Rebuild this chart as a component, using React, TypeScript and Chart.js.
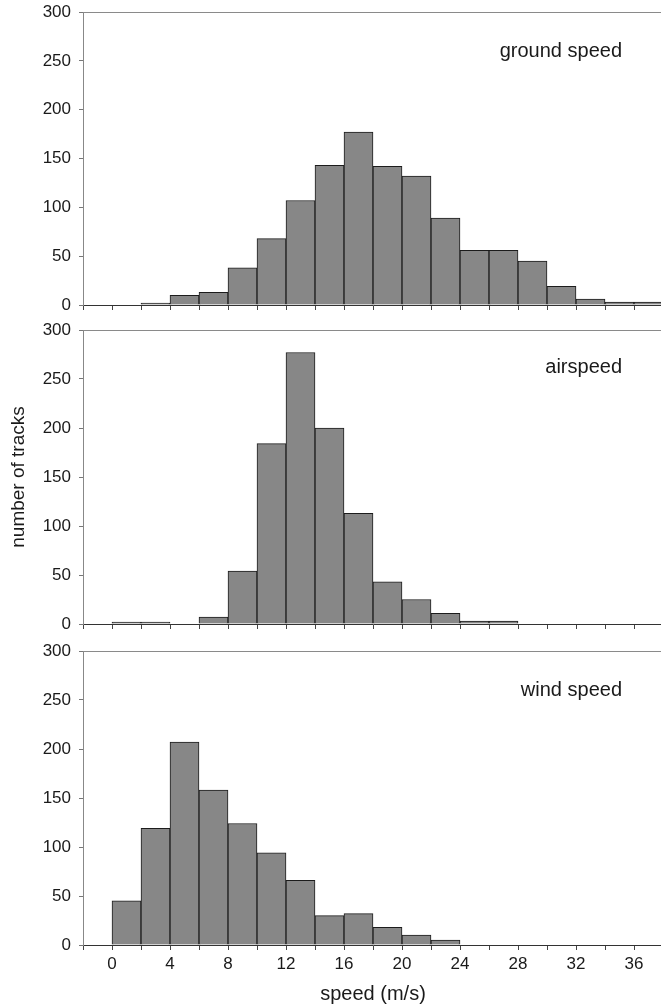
import { useEffect, useRef } from "react";
import { Chart, registerables } from "chart.js";

Chart.register(...registerables);

// ---- data ----
const binWidth = 2;
const binStarts = [0, 2, 4, 6, 8, 10, 12, 14, 16, 18, 20, 22, 24, 26, 28, 30, 32, 34, 36];
const groundSpeed = [0, 2, 10, 13, 38, 68, 107, 143, 177, 142, 132, 89, 56, 56, 45, 19, 6, 3, 3];
const airSpeed = [2, 2, 0, 7, 54, 184, 277, 200, 113, 43, 25, 11, 3, 3, 0, 0, 0, 0, 0];
const windSpeed = [45, 119, 207, 158, 124, 94, 66, 30, 32, 18, 10, 5, 0, 0, 0, 0, 0, 0, 0];
const yTicks = [0, 50, 100, 150, 200, 250, 300];
const xTickMarks = [-2, 0, 2, 4, 6, 8, 10, 12, 14, 16, 18, 20, 22, 24, 26, 28, 30, 32, 34, 36, 38];
const xTickLabels = [0, 4, 8, 12, 16, 20, 24, 28, 32, 36];
const panelLabels = ["ground speed", "airspeed", "wind speed"];
const xTitle = "speed (m/s)";
const yTitle = "number of tracks";

const FONT = "'Liberation Sans', Arial, Helvetica, sans-serif";

type PanelProps = {
  values: number[];
  label: string;
  labelDy: number;
  top: number;
  height: number;
  axisHeight: number;
  showXLabels: boolean;
  showYTitle: boolean;
};

function Panel({ values, label, labelDy, top, height, axisHeight, showXLabels, showYTitle }: PanelProps) {
  const ref = useRef<HTMLCanvasElement>(null);
  useEffect(() => {
    if (!ref.current) return;
    const framePlugin = {
      id: "frame",
      afterDraw(chart: any) {
        const { ctx, chartArea } = chart;
        ctx.save();
        ctx.strokeStyle = "#8a8a8a";
        ctx.lineWidth = 1;
        ctx.beginPath();
        ctx.moveTo(chartArea.left, Math.round(chartArea.top) + 0.5);
        ctx.lineTo(chartArea.right, Math.round(chartArea.top) + 0.5);
        ctx.stroke();
        ctx.fillStyle = "#1a1a1a";
        ctx.font = `20px ${FONT}`;
        ctx.textAlign = "right";
        ctx.textBaseline = "alphabetic";
        ctx.fillText(label, 622, chartArea.top + labelDy);
        ctx.restore();
      },
    };
    const chart = new Chart(ref.current, {
      type: "bar",
      data: {
        datasets: [
          {
            data: binStarts.map((b, i) => ({ x: b + binWidth / 2, y: values[i] })),
            backgroundColor: "#878787",
            borderColor: "#1c1c1c",
            borderWidth: 1,
            barPercentage: 1,
            categoryPercentage: 1,
          },
        ],
      },
      options: {
        responsive: false,
        animation: false,
        events: [],
        layout: { padding: { top: 12, right: 17, left: 0, bottom: 0 } },
        plugins: { legend: { display: false }, tooltip: { enabled: false } },
        scales: {
          x: {
            type: "linear",
            min: xTickMarks[0],
            max: xTickMarks[xTickMarks.length - 1],
            offset: false,
            afterBuildTicks: (s: any) => {
              s.ticks = xTickMarks.map((v) => ({ value: v }));
            },
            afterFit: (s: any) => {
              s.height = axisHeight;
              s.paddingLeft = 0;
              s.paddingRight = 0;
            },
            ticks: {
              autoSkip: false,
              maxRotation: 0,
              padding: 4,
              color: "#1a1a1a",
              font: { family: FONT, size: 17 },
              callback: (v: any) => (showXLabels && xTickLabels.includes(Number(v)) ? String(v) : ""),
            },
            grid: { display: true, drawOnChartArea: false, offset: false, tickLength: 5, color: "#444" },
            border: { display: true, color: "#333", width: 1 },
            title: showXLabels
              ? { display: true, text: xTitle, color: "#1a1a1a", font: { family: FONT, size: 20 }, padding: { top: 1, bottom: 1 } }
              : { display: false },
          } as any,
          y: {
            min: yTicks[0],
            max: yTicks[yTicks.length - 1],
            afterBuildTicks: (s: any) => {
              s.ticks = yTicks.map((v) => ({ value: v }));
            },
            afterFit: (s: any) => {
              s.width = 83;
              s.paddingTop = 0;
              s.paddingBottom = 0;
            },
            ticks: { padding: 8, color: "#1a1a1a", font: { family: FONT, size: 17 } },
            grid: { display: true, drawOnChartArea: false, tickLength: 4, color: "#777" },
            border: { display: true, color: "#888", width: 1 },
            title: showYTitle
              ? { display: true, text: yTitle, color: "#1a1a1a", font: { family: FONT, size: 19 }, padding: { top: 7, bottom: 7 } }
              : { display: false },
          } as any,
        },
      },
      plugins: [framePlugin],
    });
    return () => chart.destroy();
  }, [values, label, labelDy, axisHeight, showXLabels, showYTitle]);

  return (
    <canvas
      ref={ref}
      width={680}
      height={height}
      style={{ position: "absolute", left: 0, top, width: 680, height, display: "block" }}
    />
  );
}

export default function App() {
  return (
    <div
      style={{
        position: "fixed",
        left: 0,
        top: 0,
        width: 661,
        height: 1007,
        overflow: "hidden",
        background: "#fff",
      }}
    >
      <Panel values={groundSpeed} label={panelLabels[0]} labelDy={45} top={0} height={315} axisHeight={10} showXLabels={false} showYTitle={false} />
      <Panel values={airSpeed} label={panelLabels[1]} labelDy={43} top={318} height={316} axisHeight={10} showXLabels={false} showYTitle={true} />
      <Panel values={windSpeed} label={panelLabels[2]} labelDy={45} top={639} height={368} axisHeight={62} showXLabels={true} showYTitle={false} />
    </div>
  );
}
